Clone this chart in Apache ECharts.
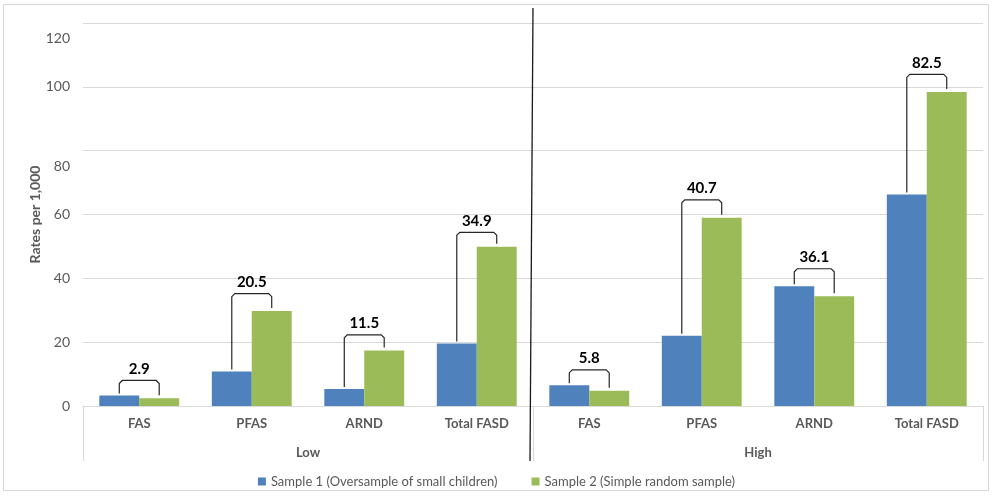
<!DOCTYPE html>
<html><head><meta charset="utf-8">
<script src="https://cdn.jsdelivr.net/npm/echarts@6/dist/echarts.min.js"></script>
<style>html,body{margin:0;padding:0;background:#fff}#c{width:993px;height:496px}</style>
</head><body><div id="c"></div>
<script>
const categories = ['FAS', 'PFAS', 'ARND', 'Total FASD', 'FAS', 'PFAS', 'ARND', 'Total FASD'];
const groups = ['Low', 'High'];
const sample1 = [3.3, 10.8, 5.3, 19.6, 6.5, 22.0, 37.5, 66.3];
const sample2 = [2.4, 29.8, 17.4, 49.9, 4.8, 59.0, 34.4, 98.4];
const bracketTop = [8.0, 35.2, 22.3, 54.4, 11.3, 64.6, 43.0, 103.9];
const bracketLabels = ['2.9', '20.5', '11.5', '34.9', '5.8', '40.7', '36.1', '82.5'];
const yTicks = [0, 20, 40, 60, 80, 100, 120];
const seriesNames = ['Sample 1 (Oversample of small children)', 'Sample 2 (Simple random sample)'];

const FONT = 'Lato';
const GRAY = '#595959';
const CAT_GAP = 0.29;

const bracketData = categories.map((c, i) => [i, sample1[i], sample2[i], bracketTop[i], bracketLabels[i]]);

const chart = echarts.init(document.getElementById('c'));
chart.setOption({
  animation: false,
  textStyle: { fontFamily: FONT },
  grid: { left: 83, right: 10, top: 23, bottom: 90 },
  legend: {
    data: seriesNames,
    bottom: 3,
    left: 'center',
    icon: 'rect',
    itemWidth: 8,
    itemHeight: 8,
    itemGap: 34,
    textStyle: { color: GRAY, fontSize: 13, fontFamily: FONT }
  },
  xAxis: [
    {
      type: 'category',
      data: categories,
      axisLine: { lineStyle: { color: '#d9d9d9' } },
      axisTick: { show: false },
      axisLabel: { color: GRAY, fontSize: 13, fontWeight: 'bold', margin: 11, interval: 0, fontFamily: FONT }
    },
    {
      type: 'category',
      data: groups,
      position: 'bottom',
      axisLine: { lineStyle: { color: '#d9d9d9' } },
      axisTick: { show: true, length: 55, interval: 0, lineStyle: { color: '#d9d9d9' } },
      axisLabel: { color: GRAY, fontSize: 13, fontWeight: 'bold', margin: 40, fontFamily: FONT }
    }
  ],
  yAxis: {
    type: 'value',
    min: 0,
    max: 120,
    interval: 20,
    name: 'Rates per 1,000',
    nameLocation: 'middle',
    nameGap: 41,
    nameMoveOverlap: false,
    nameTextStyle: { color: GRAY, fontSize: 14, fontWeight: 'bold', fontFamily: FONT },
    axisLine: { show: false },
    axisTick: { show: false },
    splitLine: { lineStyle: { color: '#d9d9d9' } },
    axisLabel: {
      color: GRAY, fontSize: 14, margin: 13, fontFamily: FONT,
      formatter: v => (yTicks.indexOf(v) < 0 ? '' : ((v === 80 || v === 120) ? '{s|' + v + '}' : '{n|' + v + '}')),
      rich: {
        n: { color: GRAY, fontSize: 14, fontFamily: FONT },
        s: { color: GRAY, fontSize: 14, fontFamily: FONT, padding: [31, 0, 0, 0] }
      }
    }
  },
  series: [
    {
      name: seriesNames[0], type: 'bar', data: sample1,
      itemStyle: { color: '#4F81BD' }, barGap: '0%', barCategoryGap: (CAT_GAP * 100) + '%'
    },
    {
      name: seriesNames[1], type: 'bar', data: sample2,
      itemStyle: { color: '#9BBB59' }, barGap: '0%', barCategoryGap: (CAT_GAP * 100) + '%'
    },
    {
      type: 'custom',
      data: bracketData,
      clip: false,
      z: 5,
      renderItem: function (params, api) {
        const idx = api.value(0);
        const band = api.size([1, 0])[0];
        const off = band * (1 - CAT_GAP) / 4;
        const c = api.coord([idx, api.value(3)]);
        const yb = api.coord([idx, api.value(1)])[1];
        const yg = api.coord([idx, api.value(2)])[1];
        const xl = c[0] - off, xr = c[0] + off, yt = c[1];
        const r = 3;
        return {
          type: 'group',
          children: [
            {
              type: 'polyline',
              shape: { points: [[xl, yb - 2], [xl, yt + r], [xl + r, yt], [xr - r, yt], [xr, yt + r], [xr, yg - 3]] },
              style: { stroke: '#262626', lineWidth: 1.2, fill: null }
            },
            {
              type: 'text',
              style: {
                text: bracketLabels[params.dataIndex], x: c[0], y: yt - 4,
                align: 'center', verticalAlign: 'bottom',
                fill: '#000', font: 'bold 15px ' + FONT
              }
            }
          ]
        };
      }
    },
    {
      type: 'custom',
      data: [[3, 120]],
      clip: false,
      z: 6,
      renderItem: function (params, api) {
        const band = api.size([1, 0])[0];
        const top = api.coord([api.value(0), api.value(1)]);
        const bot = api.coord([api.value(0), 0]);
        const x = top[0] + band / 2;
        return {
          type: 'line',
          shape: { x1: x, y1: top[1] - 15, x2: x - 3, y2: bot[1] + 55 },
          style: { stroke: '#1a1a1a', lineWidth: 1.3 }
        };
      }
    }
  ],
  graphic: [
    { type: 'rect', shape: { x: 3.5, y: 4.5, width: 985, height: 486 }, style: { fill: null, stroke: '#d9d9d9', lineWidth: 1 }, silent: true }
  ]
});
</script></body></html>
